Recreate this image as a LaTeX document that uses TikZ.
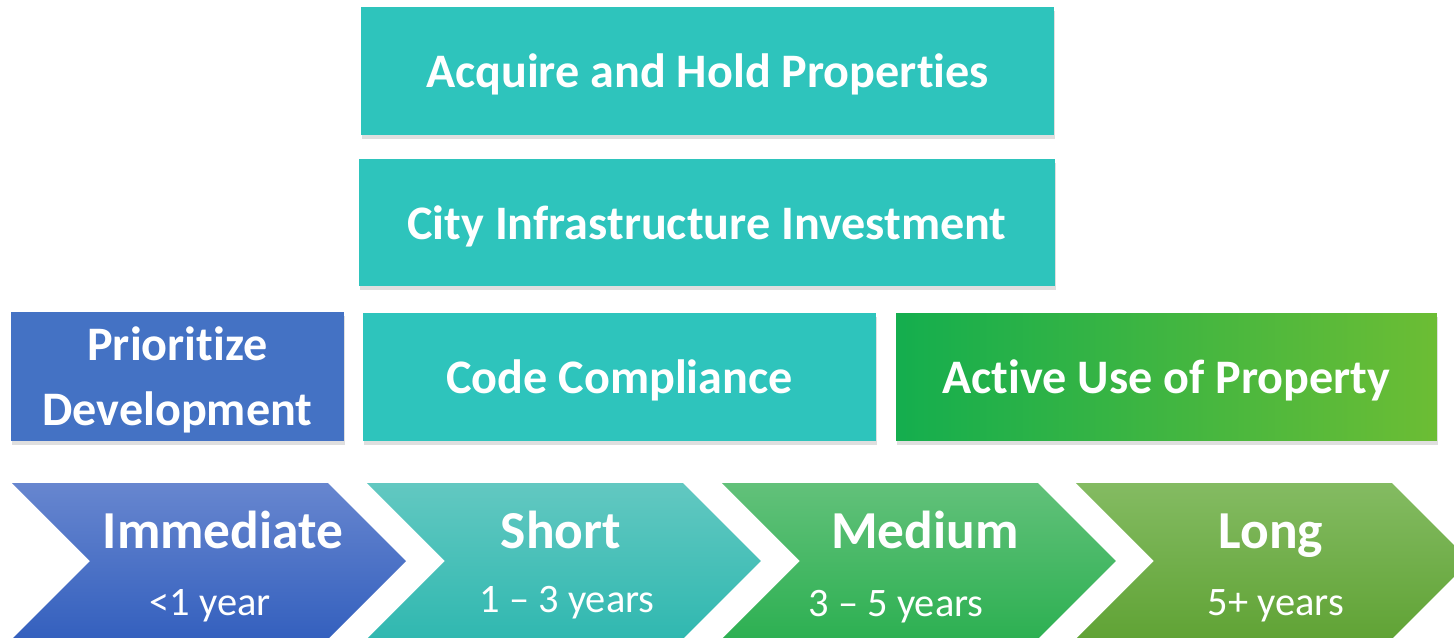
\documentclass[tikz,border=0pt]{standalone}
\usepackage{fontspec}
\setmainfont{Carlito}[Ligatures=NoCommon]
\usetikzlibrary{shadows}

\definecolor{tealbox}{HTML}{2EC4BC}
\definecolor{bluebox}{HTML}{4472C4}
\definecolor{greenleft}{HTML}{14AE4E}
\definecolor{greenright}{HTML}{6CBD34}
\definecolor{chevblueA}{HTML}{6786CF}
\definecolor{chevblueB}{HTML}{3460BE}
\definecolor{chevtealA}{HTML}{62C8C1}
\definecolor{chevtealB}{HTML}{30B8B0}
\definecolor{chevgreenA}{HTML}{62C17A}
\definecolor{chevgreenB}{HTML}{2DB052}
\definecolor{chevoliveA}{HTML}{84BB62}
\definecolor{chevoliveB}{HTML}{60A335}

\begin{document}
\begin{tikzpicture}[x=0.02cm, y=-0.02cm,
		box/.style={inner sep=0pt, outer sep=0pt, text=white, align=center, text depth=0pt,
			font=\fontsize{27.4}{37}\selectfont\bfseries,
			drop shadow={opacity=0.25, shadow xshift=0.5pt, shadow yshift=-2.5pt}},
		chevtitle/.style={anchor=base, text=white, font=\fontsize{30.4}{36}\selectfont\bfseries},
		chevsub/.style={anchor=base, text=white, font=\fontsize{23}{27}\selectfont}]
		
		\clip (0,0) rectangle (1454,637);
		
		% top boxes
		\node[box, fill=tealbox, minimum width=13.86cm, minimum height=2.56cm] (acquire) at (707.5,71) {Acquire and Hold Properties};
		\node[box, fill=tealbox, minimum width=13.92cm, minimum height=2.54cm] (city) at (707,222.5) {City Infrastructure Investment};
		
		% middle row
		\node[box, fill=bluebox, minimum width=6.66cm, minimum height=2.58cm] (prioritize) at (177.5,376.5) {Prioritize\\Development};
		\node[box, fill=tealbox, minimum width=10.26cm, minimum height=2.56cm] (code) at (619.5,377) {Code Compliance};
		\node[box, left color=greenleft, right color=greenright, minimum width=10.82cm, minimum height=2.56cm] (active) at (1166.5,377) {Active Use of Property};
		
		% chevrons
		\shade[top color=chevblueA, bottom color=chevblueB] (12,483) -- (328,483) -- (406,561) -- (328,639) -- (12,639) -- (90,561) -- cycle;
		\shade[xshift=7.1cm, top color=chevtealA, bottom color=chevtealB] (12,483) -- (328,483) -- (406,561) -- (328,639) -- (12,639) -- (90,561) -- cycle;
		\shade[xshift=14.2cm, top color=chevgreenA, bottom color=chevgreenB] (12,483) -- (328,483) -- (406,561) -- (328,639) -- (12,639) -- (90,561) -- cycle;
		\shade[xshift=21.28cm, top color=chevoliveA, bottom color=chevoliveB] (12,483) -- (328,483) -- (406,561) -- (328,639) -- (12,639) -- (90,561) -- cycle;
		
		\node[chevtitle] (immediate) at (223,548) {Immediate};
		\node[chevsub] (immediatesub) at (210,615) {<1 year};
		\node[chevtitle] (short) at (561,548) {Short};
		\node[chevsub] (shortsub) at (567,612) {1 – 3 years};
		\node[chevtitle] (medium) at (925,548) {Medium};
		\node[chevsub] (mediumsub) at (896,616) {3 – 5 years};
		\node[chevtitle] (long) at (1271,548) {Long};
		\node[chevsub] (longsub) at (1276,615) {5+ years};
		
	\end{tikzpicture}
\end{document}
